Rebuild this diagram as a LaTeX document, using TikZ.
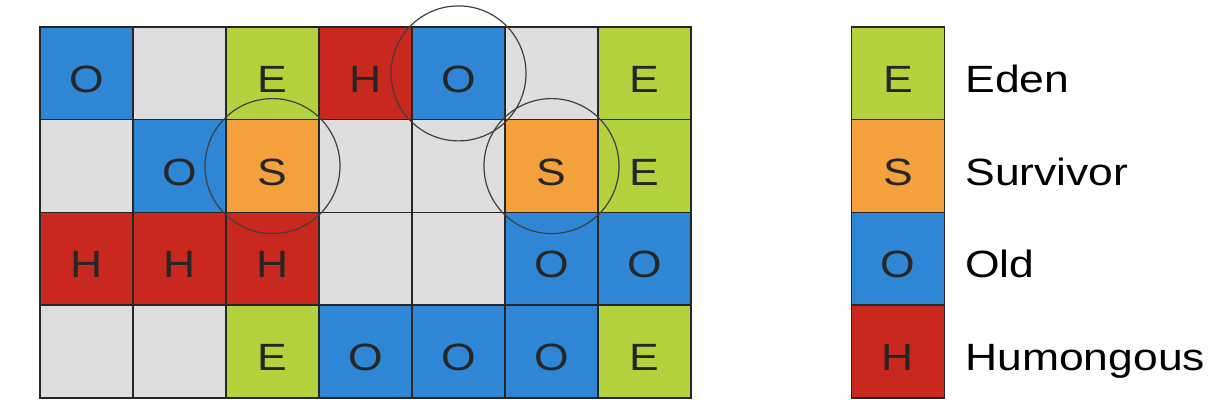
\documentclass[tikz,border=0pt]{standalone}
\usepackage{fontspec}
\setmainfont{Liberation Sans}[FakeStretch=1.17]
\definecolor{edengreen}{RGB}{180,210,62}
\definecolor{survorange}{RGB}{244,160,60}
\definecolor{oldblue}{RGB}{46,134,212}
\definecolor{humred}{RGB}{200,40,30}
\definecolor{freegray}{RGB}{222,222,222}
\tikzset{
  region/.style={draw=black!85, line width=0.75pt, minimum width=46.5pt,
    minimum height=46.4pt, inner sep=0pt, text height=19pt, text depth=0pt,
    font=\fontsize{19}{21}\selectfont, text=black!85},
  eden/.style={region, fill=edengreen},
  surv/.style={region, fill=survorange},
  old/.style={region, fill=oldblue},
  hum/.style={region, fill=humred},
  free/.style={region, fill=freegray},
  keytext/.style={anchor=west, inner sep=0pt, text height=19pt, text depth=0pt,
    font=\fontsize{19}{21}\selectfont},
  ring/.style={draw=black!75, line width=0.6pt}
}
\begin{document}
\begin{tikzpicture}[x=0.5pt,y=-0.5pt]
  \useasboundingbox (0,0) rectangle (1228,406);
  % row 1
  \node[old]  (c11) at (86.5,73.4) {O};
  \node[free] (c12) at (179.5,73.4) {};
  \node[eden] (c13) at (272.5,73.4) {E};
  \node[hum]  (c14) at (365.5,73.4) {H};
  \node[old]  (c15) at (458.5,73.4) {O};
  \node[free] (c16) at (551.5,73.4) {};
  \node[eden] (c17) at (644.5,73.4) {E};
  % row 2
  \node[free] (c21) at (86.5,166.1) {};
  \node[old]  (c22) at (179.5,166.1) {O};
  \node[surv] (c23) at (272.5,166.1) {S};
  \node[free] (c24) at (365.5,166.1) {};
  \node[free] (c25) at (458.5,166.1) {};
  \node[surv] (c26) at (551.5,166.1) {S};
  \node[eden] (c27) at (644.5,166.1) {E};
  % row 3
  \node[hum]  (c31) at (86.5,258.9) {H};
  \node[hum]  (c32) at (179.5,258.9) {H};
  \node[hum]  (c33) at (272.5,258.9) {H};
  \node[free] (c34) at (365.5,258.9) {};
  \node[free] (c35) at (458.5,258.9) {};
  \node[old]  (c36) at (551.5,258.9) {O};
  \node[old]  (c37) at (644.5,258.9) {O};
  % row 4
  \node[free] (c41) at (86.5,351.6) {};
  \node[free] (c42) at (179.5,351.6) {};
  \node[eden] (c43) at (272.5,351.6) {E};
  \node[old]  (c44) at (365.5,351.6) {O};
  \node[old]  (c45) at (458.5,351.6) {O};
  \node[old]  (c46) at (551.5,351.6) {O};
  \node[eden] (c47) at (644.5,351.6) {E};
  % circled regions
  \draw[ring] (c23) circle (33.75pt);
  \draw[ring] (c15) circle (33.75pt);
  \draw[ring] (c26) circle (33.75pt);
  % legend
  \node[eden] (keyE) at (898,73.4) {E};
  \node[surv] (keyS) at (898,166.1) {S};
  \node[old]  (keyO) at (898,258.9) {O};
  \node[hum]  (keyH) at (898,351.6) {H};
  \node[keytext] (labE) at (965,73.4) {Eden};
  \node[keytext] (labS) at (965,166.1) {Survivor};
  \node[keytext] (labO) at (965,258.9) {Old};
  \node[keytext] (labH) at (965,351.6) {Humongous};
\end{tikzpicture}
\end{document}
